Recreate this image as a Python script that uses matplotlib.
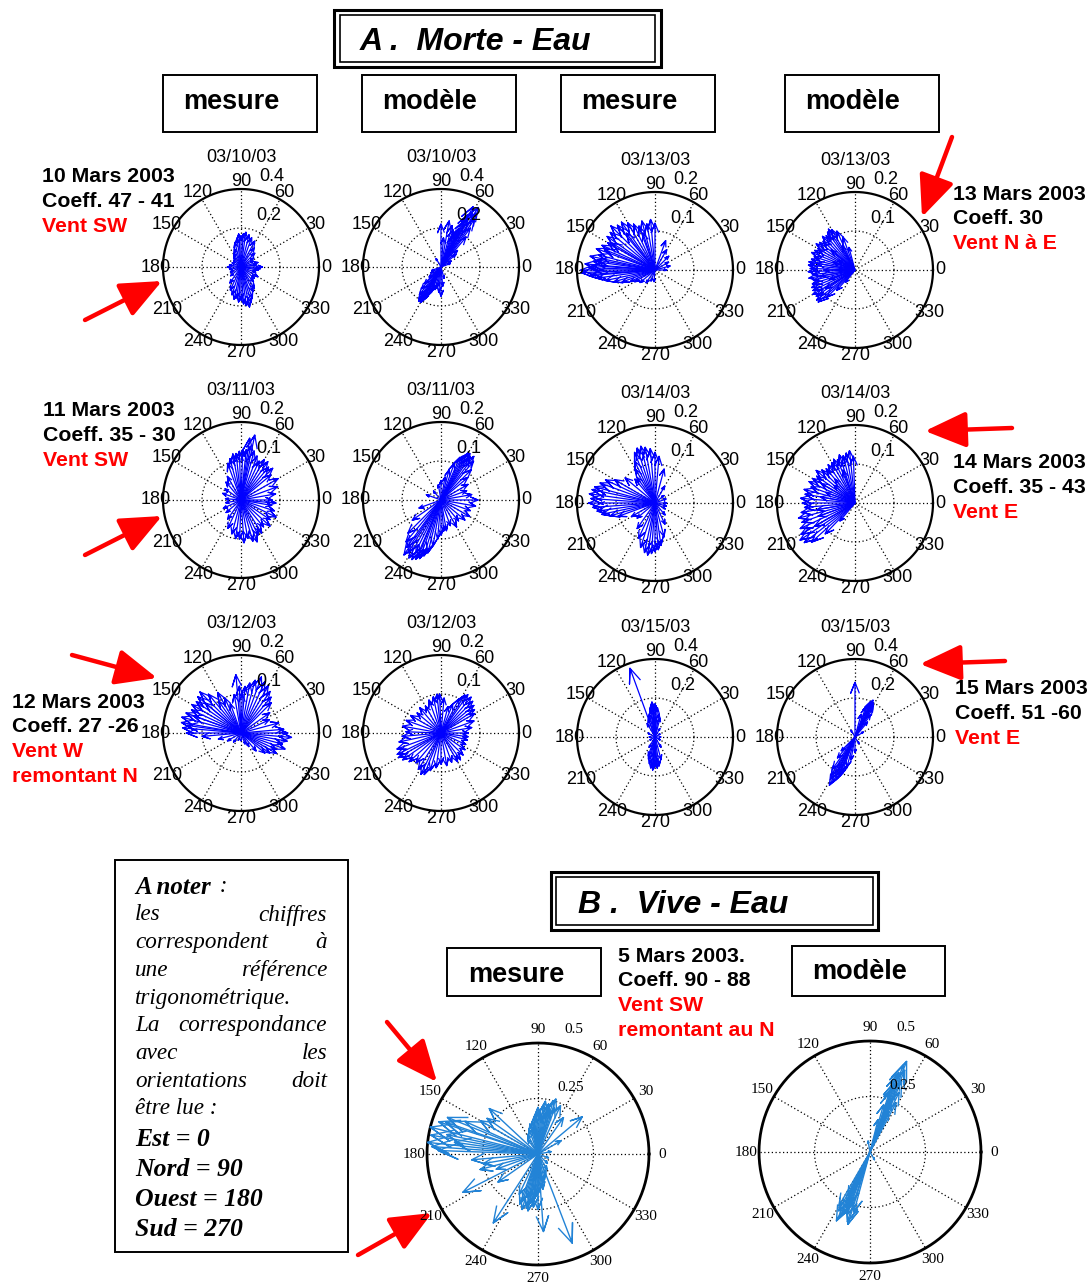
import numpy as np
import matplotlib
matplotlib.use('Agg')
import matplotlib.pyplot as plt
from matplotlib.patches import Rectangle, FancyArrowPatch
from matplotlib.collections import LineCollection

plt.rcParams['font.family'] = ['Liberation Sans', 'DejaVu Sans']

# current vectors: direction (deg, trigonometric) and speed (m/s)
# Morte-Eau, 10 March
p11_ang = [0, 8, 15, 25, 35, 45, 55, 62, 70, 76, 82, 86, 90, 94, 98, 104, 110, 118, 128, 140,
           155, 170, 180, 192, 205, 220, 235, 245, 252, 258, 262, 266, 270, 274, 278, 282, 286, 290, 296, 302,
           310, 320, 330, 340, 350, 355]
p11_mag = [0.11, 0.08, 0.09, 0.07, 0.08, 0.1, 0.12, 0.15, 0.16, 0.17, 0.18, 0.17, 0.16, 0.17, 0.15, 0.13, 0.1, 0.08, 0.06, 0.05,
           0.05, 0.06, 0.07, 0.06, 0.06, 0.07, 0.1, 0.13, 0.15, 0.17, 0.16, 0.18, 0.17, 0.19, 0.2, 0.21, 0.19, 0.17, 0.14, 0.13,
           0.1, 0.09, 0.1, 0.08, 0.09, 0.1]
p12_ang = [50, 53, 55, 57, 58, 60, 61, 62, 63, 64, 65, 66, 68, 70, 72, 75, 80, 85, 90, 45, 40, 30, 20,
           225, 228, 232, 235, 237, 238, 240, 241, 242, 244, 246, 248, 250, 255, 260, 265, 270, 275, 285,
           220, 210, 200, 120]
p12_mag = [0.2, 0.25, 0.3, 0.33, 0.36, 0.32, 0.28, 0.35, 0.3, 0.26, 0.22, 0.2, 0.18, 0.16, 0.2, 0.22, 0.24, 0.15, 0.22,
           0.12, 0.1, 0.06, 0.05,
           0.12, 0.15, 0.18, 0.2, 0.21, 0.19, 0.21, 0.2, 0.18, 0.17, 0.15, 0.14, 0.12, 0.12, 0.1, 0.13, 0.15, 0.1, 0.06,
           0.08, 0.06, 0.05, 0.05]
# 13 March
p13_ang = [90, 95, 100, 105, 110, 115, 120, 125, 130, 135, 140, 145, 150, 155, 160, 165, 168, 172, 175, 178,
           180, 182, 185, 188, 192, 196, 200, 205, 210, 220, 235, 250, 265, 70, 60, 45, 30, 15, 0,
           108, 128, 148, 158, 170, 176, 184]
p13_mag = [0.12, 0.13, 0.12, 0.13, 0.12, 0.13, 0.14, 0.15, 0.15, 0.16, 0.15, 0.15, 0.14, 0.15, 0.16, 0.15, 0.17, 0.16, 0.18, 0.17,
           0.19, 0.19, 0.17, 0.15, 0.13, 0.11, 0.09, 0.07, 0.06, 0.05, 0.04, 0.03, 0.03, 0.08, 0.06, 0.05, 0.04, 0.04, 0.03,
           0.1, 0.12, 0.13, 0.14, 0.15, 0.16, 0.16]
p14_ang = [105, 110, 115, 120, 123, 126, 130, 134, 138, 142, 146, 150, 154, 158, 162, 166, 170, 174, 178, 182,
           186, 190, 194, 198, 202, 206, 210, 214, 218, 221, 224, 228, 232, 118, 140, 160, 180, 200, 212, 150, 170, 190]
p14_mag = [0.06, 0.09, 0.11, 0.12, 0.125, 0.12, 0.115, 0.12, 0.11, 0.115, 0.12, 0.11, 0.115, 0.12, 0.11, 0.115, 0.12, 0.12, 0.115, 0.12,
           0.11, 0.12, 0.11, 0.115, 0.12, 0.12, 0.125, 0.12, 0.125, 0.125, 0.1, 0.07, 0.04, 0.07, 0.08, 0.06, 0.08, 0.07, 0.09,
           0.05, 0.1, 0.09]
# 11 March
p21_ang = [0, 10, 20, 30, 40, 45, 50, 55, 60, 65, 70, 75, 80, 84, 88, 92, 96, 100, 105, 110,
           120, 130, 145, 160, 175, 190, 205, 220, 235, 245, 255, 262, 268, 274, 280, 286, 291, 296, 302, 310,
           318, 326, 334, 342, 350, 355, 78, 82]
p21_mag = [0.08, 0.09, 0.1, 0.11, 0.1, 0.115, 0.11, 0.12, 0.12, 0.11, 0.12, 0.13, 0.14, 0.13, 0.13, 0.125, 0.12, 0.12, 0.11, 0.1,
           0.07, 0.06, 0.05, 0.05, 0.04, 0.04, 0.05, 0.05, 0.06, 0.08, 0.09, 0.1, 0.1, 0.11, 0.1, 0.11, 0.115, 0.1, 0.1, 0.09,
           0.1, 0.09, 0.1, 0.09, 0.08, 0.09, 0.17, 0.16]
p22_ang = [40, 45, 50, 53, 56, 58, 60, 62, 64, 66, 70, 75, 80, 90, 100, 130, 160, 200, 215, 225,
           230, 234, 238, 241, 244, 247, 250, 253, 256, 260, 265, 270, 275, 280, 290, 300, 310, 320, 330, 340,
           350, 0, 10, 20, 30, 236, 248]
p22_mag = [0.09, 0.11, 0.13, 0.14, 0.135, 0.14, 0.14, 0.13, 0.125, 0.12, 0.1, 0.08, 0.06, 0.05, 0.04, 0.03, 0.04, 0.06, 0.09, 0.12,
           0.14, 0.15, 0.16, 0.17, 0.17, 0.165, 0.16, 0.15, 0.14, 0.12, 0.1, 0.09, 0.08, 0.08, 0.07, 0.08, 0.07, 0.08, 0.085, 0.08,
           0.09, 0.095, 0.08, 0.07, 0.08, 0.17, 0.16]
# 14 March
p23_ang = [0, 20, 40, 60, 75, 85, 90, 95, 100, 104, 108, 112, 116, 120, 125, 130, 140, 150, 155, 160,
           165, 168, 172, 176, 180, 184, 188, 192, 196, 200, 210, 220, 235, 245, 252, 258, 262, 266, 270, 274,
           278, 285, 295, 310, 330, 345]
p23_mag = [0.03, 0.03, 0.03, 0.05, 0.09, 0.12, 0.13, 0.14, 0.145, 0.15, 0.148, 0.14, 0.12, 0.1, 0.08, 0.08, 0.1, 0.12, 0.14, 0.15,
           0.16, 0.165, 0.17, 0.165, 0.17, 0.16, 0.15, 0.14, 0.12, 0.1, 0.07, 0.06, 0.08, 0.1, 0.12, 0.13, 0.135, 0.13, 0.125, 0.12,
           0.11, 0.09, 0.06, 0.04, 0.03, 0.03]
p24_ang = [92, 96, 100, 104, 108, 112, 116, 120, 125, 130, 135, 140, 145, 150, 155, 160, 165, 170, 175, 180,
           185, 190, 195, 200, 205, 210, 214, 218, 222, 226, 230, 110, 130, 150, 170, 190, 210, 140, 160, 200]
p24_mag = [0.12, 0.135, 0.13, 0.125, 0.13, 0.12, 0.125, 0.12, 0.12, 0.115, 0.12, 0.13, 0.12, 0.125, 0.13, 0.12, 0.135, 0.13, 0.14, 0.135,
           0.13, 0.14, 0.15, 0.145, 0.155, 0.16, 0.17, 0.165, 0.15, 0.11, 0.06, 0.09, 0.08, 0.1, 0.09, 0.1, 0.12, 0.07, 0.08, 0.1]
# 12 March
p31_ang = [0, 5, 355, 350, 345, 340, 335, 330, 325, 320, 310, 300, 290, 270, 250, 230, 210, 195, 185, 180,
           175, 170, 165, 160, 155, 150, 145, 140, 135, 130, 125, 120, 115, 110, 100, 95, 92, 88, 85, 80,
           75, 70, 65, 60, 55, 50, 45, 35, 25, 15, 140, 160, 172]
p31_mag = [0.12, 0.11, 0.13, 0.12, 0.11, 0.12, 0.1, 0.105, 0.09, 0.08, 0.06, 0.04, 0.03, 0.02, 0.02, 0.03, 0.04, 0.06, 0.1, 0.14,
           0.15, 0.155, 0.157, 0.15, 0.14, 0.145, 0.14, 0.145, 0.149, 0.13, 0.1, 0.12, 0.1, 0.08, 0.1, 0.15, 0.12, 0.1, 0.12, 0.13,
           0.14, 0.153, 0.145, 0.14, 0.13, 0.12, 0.11, 0.09, 0.08, 0.1, 0.12, 0.13, 0.14]
p32_ang = [0, 10, 20, 30, 35, 40, 45, 50, 55, 58, 62, 68, 75, 85, 92, 96, 102, 110, 120, 130,
           140, 150, 160, 170, 178, 185, 192, 200, 206, 210, 215, 222, 230, 238, 244, 248, 254, 262, 270, 280,
           290, 300, 306, 315, 325, 335, 345, 352]
p32_mag = [0.07, 0.08, 0.09, 0.1, 0.105, 0.11, 0.115, 0.12, 0.12, 0.115, 0.1, 0.08, 0.07, 0.09, 0.1, 0.1, 0.095, 0.09, 0.08, 0.085,
           0.08, 0.09, 0.095, 0.1, 0.09, 0.1, 0.11, 0.12, 0.125, 0.126, 0.12, 0.11, 0.1, 0.11, 0.118, 0.115, 0.1, 0.09, 0.08, 0.085,
           0.08, 0.085, 0.085, 0.08, 0.075, 0.07, 0.07, 0.07]
# 15 March
p33_ang = [85, 88, 90, 92, 95, 98, 100, 104, 110, 80, 75, 60, 30, 0, 330, 300, 285, 278, 274, 270,
           266, 262, 258, 254, 250, 240, 210, 180, 150, 120, 110, 265, 268, 272, 94]
p33_mag = [0.15, 0.16, 0.17, 0.16, 0.18, 0.15, 0.14, 0.12, 0.375, 0.12, 0.1, 0.05, 0.03, 0.03, 0.03, 0.06, 0.12, 0.15, 0.16, 0.15,
           0.17, 0.16, 0.14, 0.12, 0.1, 0.06, 0.03, 0.03, 0.04, 0.08, 0.1, 0.15, 0.16, 0.14, 0.17]
p34_ang = [55, 58, 60, 62, 64, 66, 68, 70, 90, 75, 50, 235, 238, 240, 242, 244, 246, 248, 250, 255,
           260, 230, 225, 270, 300, 30, 120, 63, 243, 247]
p34_mag = [0.14, 0.17, 0.19, 0.2, 0.21, 0.2, 0.18, 0.16, 0.28, 0.12, 0.1, 0.2, 0.23, 0.25, 0.28, 0.26, 0.24, 0.22, 0.2, 0.16,
           0.12, 0.14, 0.1, 0.08, 0.04, 0.05, 0.04, 0.15, 0.18, 0.2]
# Vive-Eau, 5 March
b1_ang = [166, 170, 174, 176, 178, 162, 158, 161, 168, 172, 156, 150, 137, 145, 185, 190, 195, 200, 207, 215,
          237, 245, 274, 270, 291, 40, 30, 55, 65, 72, 75, 78, 80, 84, 88, 92, 96, 100, 105, 110,
          118, 125, 250, 254, 258, 262, 266, 270, 278, 284, 290, 300, 315, 340, 10,
          70, 74, 77, 82, 86, 90, 94, 98, 102, 252, 256, 260, 264, 268, 272, 276, 280, 260, 265]
b1_mag = [0.5, 0.49, 0.5, 0.48, 0.45, 0.47, 0.44, 0.44, 0.42, 0.38, 0.36, 0.3, 0.3, 0.28, 0.3, 0.25, 0.27, 0.2, 0.38, 0.22,
          0.37, 0.2, 0.35, 0.25, 0.43, 0.26, 0.12, 0.2, 0.24, 0.26, 0.2, 0.23, 0.18, 0.22, 0.2, 0.19, 0.17, 0.15, 0.14, 0.12,
          0.1, 0.08, 0.24, 0.26, 0.25, 0.22, 0.2, 0.18, 0.16, 0.12, 0.1, 0.08, 0.06, 0.05, 0.06,
          0.22, 0.25, 0.21, 0.24, 0.18, 0.21, 0.16, 0.13, 0.11, 0.22, 0.2, 0.23, 0.21, 0.19, 0.17, 0.15, 0.13, 0.26, 0.24]
b2_ang = [62, 64, 66, 67, 68, 69, 70, 71, 72, 74, 76, 65, 68, 70, 240, 242, 244, 245, 246, 247,
          248, 250, 252, 253, 255, 243, 246, 249, 100, 300]
b2_mag = [0.25, 0.3, 0.35, 0.4, 0.44, 0.42, 0.38, 0.33, 0.28, 0.22, 0.15, 0.2, 0.26, 0.32, 0.28, 0.3, 0.345, 0.32, 0.3, 0.27,
          0.25, 0.3, 0.33, 0.34, 0.28, 0.22, 0.18, 0.24, 0.05, 0.04]

dates = ['03/10/03', '03/13/03', '03/11/03', '03/14/03', '03/12/03', '03/15/03']
rmax_a = [[0.4, 0.4, 0.2, 0.2], [0.2, 0.2, 0.2, 0.2], [0.2, 0.2, 0.4, 0.4]]

W, H = 1088, 1283
fig = plt.figure(figsize=(W / 100, H / 100), dpi=100)

# full-figure layer in pixel units for boxes, notes and red arrows
ov = fig.add_axes([0, 0, 1, 1])
ov.set_xlim(0, W)
ov.set_ylim(H, 0)
ov.axis('off')

DOT = (0, (1, 2))


def compass(cx, cy, rpx, rmax, ang, mag, color, lw, serif=False, title=None):
    half = 1.3 * rpx
    ax = fig.add_axes([(cx - half) / W, (H - cy - half) / H, 2 * half / W, 2 * half / H])
    lim = 1.3 * rmax
    ax.set_xlim(-lim, lim)
    ax.set_ylim(-lim, lim)
    ax.set_aspect('equal')
    ax.axis('off')
    t = np.linspace(0, 2 * np.pi, 361)
    ring = rmax / 2
    ax.plot(ring * np.cos(t), ring * np.sin(t), color='k', ls=DOT, lw=0.9)
    for a in range(0, 360, 30):
        r = np.radians(a)
        ax.plot([0, rmax * np.cos(r)], [0, rmax * np.sin(r)], color='k', ls=DOT, lw=0.9)
    ax.plot(rmax * np.cos(t), rmax * np.sin(t), color='k', lw=1.6 if not serif else 2.0)

    # arrows drawn like MATLAB compass: shaft plus two barbs
    sa = np.array([0, 1, .8, 1, .8])
    sb = np.array([0, 0, .08, 0, -.08])
    segs = []
    for a, m in zip(ang, mag):
        u, v = m * np.cos(np.radians(a)), m * np.sin(np.radians(a))
        segs.append(np.column_stack([sa * u - sb * v, sa * v + sb * u]))
    ax.add_collection(LineCollection(segs, colors=color, linewidths=lw, zorder=3))

    if serif:
        fam, fs, rl = ['Liberation Serif'], 11, 1.12
        outer, inner = (1.17, 74), (0.67, 64)
    else:
        fam, fs, rl = ['Liberation Sans'], 13, 1.1
        outer, inner = (1.23, 71), (0.745, 62)
    for a in range(0, 360, 30):
        r = np.radians(a)
        ax.text(rl * rmax * np.cos(r), rl * rmax * np.sin(r), str(a), ha='center', va='center',
                fontsize=fs, family=fam, clip_on=False, zorder=4)
    for (rr, aa), val in ((outer, rmax), (inner, ring)):
        ax.text(rr * rmax * np.cos(np.radians(aa)), rr * rmax * np.sin(np.radians(aa)), '%g' % val,
                ha='center', va='center', fontsize=fs, family=fam, clip_on=False, zorder=4)
    if title:
        ax.text(0, 1.41 * rmax, title, ha='center', va='center', fontsize=13, family=fam, clip_on=False)
    return ax


cols_x = [241, 441, 655, 855]
rows_y = [[267, 267, 270, 270], [500, 500, 503, 503], [733, 733, 737, 737]]
panels = [[(p11_ang, p11_mag), (p12_ang, p12_mag), (p13_ang, p13_mag), (p14_ang, p14_mag)],
          [(p21_ang, p21_mag), (p22_ang, p22_mag), (p23_ang, p23_mag), (p24_ang, p24_mag)],
          [(p31_ang, p31_mag), (p32_ang, p32_mag), (p33_ang, p33_mag), (p34_ang, p34_mag)]]
for i in range(3):
    for j in range(4):
        ang, mag = panels[i][j]
        compass(cols_x[j], rows_y[i][j], 78, rmax_a[i][j], ang, mag, '#0000ff', 0.9,
                title=dates[2 * i + j // 2])

compass(538, 1154, 111, 0.5, b1_ang, b1_mag, '#2283d6', 1.0, serif=True)
compass(870, 1152, 111, 0.5, b2_ang, b2_mag, '#2283d6', 1.0, serif=True)


def box(x0, y0, x1, y1, lw=1.5):
    ov.add_patch(Rectangle((x0, y0), x1 - x0, y1 - y0, fill=False, ec='k', lw=lw))


# section titles in double frames
box(334, 10, 661, 67, 2.2)
box(340, 15, 655, 62, 1.2)
ov.text(360, 42, 'A .  Morte - Eau', fontsize=23, weight='bold', style='italic', va='center')
box(551, 872, 878, 930, 2.2)
box(556, 877, 873, 925, 1.2)
ov.text(578, 905, 'B .  Vive - Eau', fontsize=23, weight='bold', style='italic', va='center')

# mesure / modèle headers
heads = ['mesure', 'modèle', 'mesure', 'modèle']
head_x = [163, 362, 561, 785]
for lab, x in zip(heads, head_x):
    box(x, 75, x + 154, 132, 1.4)
    ov.text(x + 20, 102, lab, fontsize=19.5, weight='bold', va='center')
box(447, 948, 601, 996, 1.4)
ov.text(468, 975, 'mesure', fontsize=19.5, weight='bold', va='center')
box(792, 946, 945, 996, 1.4)
ov.text(812, 972, 'modèle', fontsize=19.5, weight='bold', va='center')

# day notes: (x, first line y, black lines, red lines)
notes = [(42, 177, ['10 Mars 2003', 'Coeff. 47 - 41'], ['Vent SW']),
         (43, 411, ['11 Mars 2003', 'Coeff. 35 - 30'], ['Vent SW']),
         (12, 702, ['12 Mars 2003', 'Coeff. 27 -26'], ['Vent W', 'remontant N']),
         (953, 194, ['13 Mars 2003', 'Coeff. 30'], ['Vent N à E']),
         (953, 463, ['14 Mars 2003', 'Coeff. 35 - 43'], ['Vent E']),
         (955, 689, ['15 Mars 2003', 'Coeff. 51 -60'], ['Vent E']),
         (618, 956, ['5 Mars 2003.', 'Coeff. 90 - 88'], ['Vent SW', 'remontant au N'])]
for x, y, blk, red in notes:
    for k, s in enumerate(blk + red):
        ov.text(x, y + 24.7 * k, s, fontsize=15.3, weight='bold', va='center',
                color='k' if k < len(blk) else '#ff0000')

# red arrows toward the wind direction
red_arrows = [((85, 320), (162, 281)), ((85, 555), (162, 516)), ((72, 655), (157, 678)),
              ((952, 137), (922, 217)), ((1012, 428), (925, 431)), ((1005, 661), (920, 664)),
              ((387, 1022), (437, 1082)), ((358, 1255), (432, 1213))]
for p0, p1 in red_arrows:
    ov.add_patch(FancyArrowPatch(p0, p1, arrowstyle='-|>,head_length=2.3,head_width=1.0',
                                 mutation_scale=11, color='#ff0000', lw=3.2, shrinkA=0, shrinkB=0))

# note box
box(115, 860, 348, 1252, 1.4)
serif = ['Liberation Serif']
ov.text(135, 887, 'A noter', fontsize=18, weight='bold', style='italic', family=serif, va='center')
ov.text(214, 887, ' :', fontsize=16.7, style='italic', family=serif, va='center')
just = [('les', 'chiffres'), ('correspondent', 'à'), ('une', 'référence'), ('trigonométrique.', ''),
        ('La', 'correspondance'), ('avec', 'les'), ('orientations', 'doit'), ('être lue :', '')]
for k, (l, r) in enumerate(just):
    y = 915 + 27.7 * k
    ov.text(135, y, l, fontsize=16.7, style='italic', family=serif, va='center')
    if r:
        ov.text(327, y, r, fontsize=16.7, style='italic', family=serif, va='center', ha='right')
for k, s in enumerate(['Est = 0', 'Nord = 90', 'Ouest = 180', 'Sud = 270']):
    ov.text(135, 1139 + 30.3 * k, s, fontsize=18.5, weight='bold', style='italic', family=serif, va='center')

fig.savefig('out.png', dpi=100)
